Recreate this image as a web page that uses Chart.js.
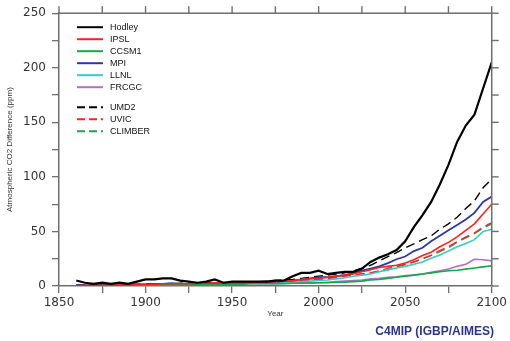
<!DOCTYPE html>
<html>
<head>
<meta charset="utf-8">
<script src="https://cdn.jsdelivr.net/npm/chart.js@4"></script>
<style>
  body { margin: 0; background: #fff; }
</style>
</head>
<body>
<canvas id="co2Chart" width="510" height="341"></canvas>
<script>
// years 1860..2100 every 5 years
const years = [];
for (let y = 1860; y <= 2100; y += 5) years.push(y);

const hadley = [5, 3, 2, 3, 2, 3, 2, 4,
    6, 6, 7, 7, 5, 4, 3, 4, 6, 3,
    4, 4, 4, 4, 4, 5, 5, 9, 12, 12,
    14, 11, 12, 13, 13, 16, 22, 26, 29, 33,
    41, 54, 65, 77, 93, 111, 132, 147, 157, 181, 205];
const ipsl = [0.5, 0.5, 1, 0.5, 1, 1, 1, 1.5,
    1.5, 1.5, 2, 2, 2, 2, 2.5, 2.5, 3, 3,
    3, 3, 3.5, 3.5, 4, 4, 4.5, 5, 6, 6.5,
    7, 8, 9, 10, 11, 13, 15, 17, 18, 19,
    21, 24, 28, 31, 36, 40, 45, 51, 57, 66, 75];
const ccsm1 = [0, 0, 0, 0.5, 0.5, 0.5, 0.5, 0.5,
    0.5, 1, 1, 1, 1, 1, 1, 1.5, 1.5, 1.5,
    1.5, 1.5, 2, 2, 2, 2, 2, 2.5, 2.5, 2.5,
    3, 3, 3.5, 3.5, 4, 4.5, 5.5, 6, 7, 8,
    9, 10, 11, 12, 13, 14, 14.5, 15.5, 16.5, 17.5, 18.5];
const mpi = [1, 0.5, 1, 1, 0.5, 1, 1, 1.5,
    1.5, 2, 2, 2.5, 2, 2, 2.5, 2, 2.5, 3,
    3, 3, 3, 3.5, 3.5, 4, 4.5, 5, 6, 7,
    8, 8, 9, 10, 12, 14, 16, 18, 21, 24.5,
    27, 32, 35, 41, 46, 51, 56, 61, 67, 77, 82];
const llnl = [0.5, 0.5, 0.5, 0.5, 0.5, 1, 1, 1,
    1, 1, 1.5, 1.5, 1.5, 1.5, 2, 2, 2, 2,
    2, 2.5, 2.5, 2.5, 3, 3, 3.5, 4, 4, 4.5,
    5, 5.5, 6.5, 7.5, 9, 10, 11, 13, 15, 16.5,
    18, 20, 22, 25.5, 28.5, 32, 36, 39, 42.5, 50, 52];
const frcgc = [0, 0, 0.5, 0.5, 0.5, 0.5, 0.5, 1,
    1, 1, 1, 1, 1, 1.5, 1.5, 1.5, 1.5, 1.5,
    2, 2, 2, 2, 2, 2, 2.5, 2.5, 3, 3,
    3, 3.5, 4, 4.5, 5, 5.5, 6.5, 7, 8, 8.5,
    9.5, 10, 11, 12.5, 14, 15.5, 18, 20, 24.5, 24, 23];
const umd2 = [1, 1, 1, 1, 1, 1.5, 1.5, 1.5,
    2, 2, 2, 2, 2.5, 2.5, 2.5, 3, 3, 3,
    3.5, 3.5, 4, 4, 4.5, 5, 5.5, 6, 7, 8,
    9, 10, 11, 12, 14, 16, 19, 23, 27, 30.5,
    35, 38.5, 42.5, 46, 52, 57, 63, 71, 78, 90, 98];
const uvic = [0.5, 0.5, 0.5, 1, 1, 1, 1, 1,
    1.5, 1.5, 1.5, 2, 2, 2, 2, 2.5, 2.5, 2.5,
    3, 3, 3, 3.5, 3.5, 4, 4, 4.5, 5, 5.5,
    6, 7, 8, 9, 10, 11, 12, 14, 16, 18,
    20, 22, 25, 28, 32.5, 36, 40.5, 45, 48.5, 54, 58];
const climber = [0.5, 0.5, 0.5, 0.5, 1, 1, 1, 1,
    1, 1.5, 1.5, 1.5, 2, 2, 2, 2, 2.5, 2.5,
    2.5, 3, 3, 3, 3.5, 3.5, 4, 4.5, 5, 5.5,
    6, 7, 8, 9, 10, 11, 12, 13.5, 14.5, 17.5,
    19.5, 22, 25, 28, 31.5, 35, 40, 44, 48, 53, 57];

const xTicks = [1850, 1900, 1950, 2000, 2050, 2100];
const yTicks = [0, 50, 100, 150, 200, 250];

function pts(values) {
    return years.map((yr, i) => ({ x: yr, y: values[i] }));
}

function series(label, values, color, width, dash) {
    return {
        label: label,
        data: pts(values),
        borderColor: color,
        backgroundColor: color,
        borderWidth: width,
        borderDash: dash || [],
        pointRadius: 0,
        tension: 0,
        fill: false
    };
}

const BLACK = '#000000', RED = '#ff2020', GREEN = '#14a848',
    BLUE = '#2b36a8', CYAN = '#38c8d0', PURPLE = '#b070c4';
const AXIS = '#6e6e6e';

// top/right frame with outward tick marks, mirroring the x/y axes
const frame = {
    id: 'frame',
    afterDraw(chart) {
        const ctx = chart.ctx;
        const a = chart.chartArea;
        const xs = chart.scales.x, ys = chart.scales.y;
        ctx.save();
        ctx.fillStyle = AXIS;
        ctx.fillRect(a.left, a.top - 0.75, a.right - a.left, 1.5);
        ctx.fillRect(a.right - 0.75, a.top, 1.5, a.bottom - a.top);
        for (let v = xs.min; v <= xs.max; v += 25) {
            const px = xs.getPixelForValue(v);
            ctx.fillRect(px - 0.7, a.top - 7, 1.4, 7);
        }
        for (let v = ys.min; v <= ys.max; v += 25) {
            const py = ys.getPixelForValue(v);
            ctx.fillRect(a.right, py - 0.7, 7, 1.4);
        }
        ctx.restore();
    }
};

// legend drawn inside the plot, with a gap before the dashed models
const insideLegend = {
    id: 'insideLegend',
    afterDraw(chart) {
        const ctx = chart.ctx;
        const a = chart.chartArea;
        ctx.save();
        ctx.font = '9px "Liberation Sans"';
        ctx.fillStyle = '#111';
        ctx.textBaseline = 'middle';
        chart.data.datasets.forEach((ds, i) => {
            const y = a.top + 14 + i * 12 + (i >= 6 ? 8 : 0);
            ctx.strokeStyle = ds.borderColor;
            ctx.lineWidth = 2;
            ctx.setLineDash(ds.borderDash.length ? [8, 4] : []);
            ctx.beginPath();
            ctx.moveTo(a.left + 18, y);
            ctx.lineTo(a.left + 44, y);
            ctx.stroke();
            ctx.fillText(ds.label, a.left + 51, y);
        });
        ctx.restore();
    }
};

const axisGrid = { drawOnChartArea: false, drawTicks: true, tickLength: 7, color: AXIS, lineWidth: 1.3 };
const axisBorder = { color: AXIS, width: 1.5 };
const tickFont = { family: 'DejaVu Sans', size: 12 };

new Chart(document.getElementById('co2Chart'), {
    type: 'line',
    data: {
        datasets: [
            series('Hodley', hadley, BLACK, 2.2),
            series('IPSL', ipsl, RED, 1.6),
            series('CCSM1', ccsm1, GREEN, 1.6),
            series('MPI', mpi, BLUE, 1.8),
            series('LLNL', llnl, CYAN, 1.6),
            series('FRCGC', frcgc, PURPLE, 1.6),
            series('UMD2', umd2, BLACK, 1.4, [9, 5]),
            series('UVIC', uvic, RED, 1.4, [9, 5]),
            series('CLIMBER', climber, GREEN, 1.4, [9, 5])
        ]
    },
    options: {
        responsive: false,
        animation: false,
        devicePixelRatio: 1,
        layout: { padding: { top: 13, right: 16, left: 0, bottom: 0 } },
        plugins: {
            legend: { display: false },
            tooltip: { enabled: false },
            title: {
                display: true,
                text: 'C4MIP (IGBP/AIMES)',
                position: 'bottom',
                align: 'end',
                color: '#2b3494',
                font: { family: 'Liberation Sans', size: 12, weight: 'bold' },
                padding: { top: 0, bottom: 2 }
            }
        },
        scales: {
            x: {
                type: 'linear',
                position: 'bottom',
                min: 1850,
                max: 2100,
                ticks: {
                    stepSize: 25,
                    autoSkip: false,
                    maxRotation: 0,
                    padding: 3,
                    color: '#333',
                    font: tickFont,
                    callback: v => xTicks.includes(v) ? String(v) : ''
                },
                grid: axisGrid,
                border: axisBorder,
                title: {
                    display: true,
                    text: 'Year',
                    color: '#333',
                    font: { family: 'Liberation Sans', size: 8 },
                    padding: { top: 0, bottom: 6 }
                },
                afterFit: s => { s.height = 38.6; }
            },
            y: {
                min: 0,
                max: 250,
                ticks: {
                    stepSize: 25,
                    padding: 6,
                    color: '#333',
                    font: tickFont,
                    callback: v => yTicks.includes(v) ? String(v) : ''
                },
                grid: axisGrid,
                border: axisBorder,
                title: {
                    display: true,
                    text: 'Atmospheric CO2 Difference (ppm)',
                    color: '#333',
                    font: { family: 'Liberation Sans', size: 8 },
                    padding: { top: 5, bottom: 0 }
                },
                afterFit: s => { s.width = 59; }
            }
        }
    },
    plugins: [frame, insideLegend]
});
</script>
</body>
</html>
